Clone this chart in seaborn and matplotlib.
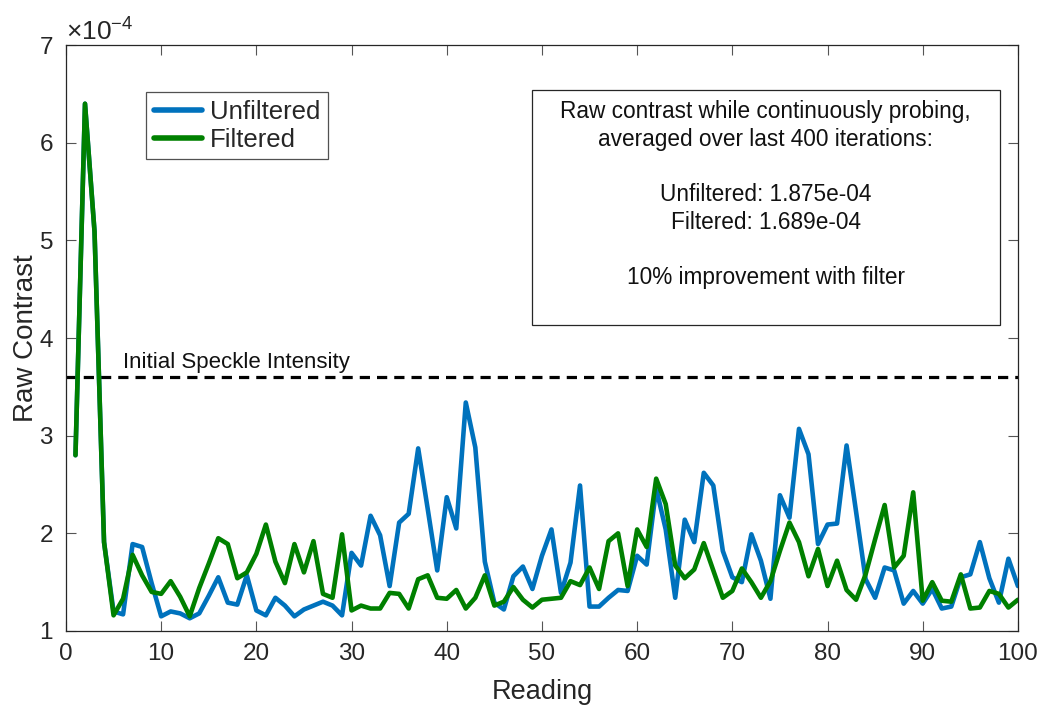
import matplotlib
matplotlib.use("Agg")
import matplotlib.pyplot as plt
import matplotlib.patches as patches
from matplotlib.ticker import ScalarFormatter, MultipleLocator
import seaborn as sns
import pandas as pd

# values, in units of 1e-4
readings = list(range(1, 101))
unfiltered = [
    2.80, 6.40, 5.09, 1.91, 1.20, 1.17, 1.89, 1.86, 1.49, 1.15,
    1.20, 1.18, 1.13, 1.18, 1.36, 1.55, 1.29, 1.27, 1.57, 1.21,
    1.16, 1.34, 1.26, 1.15, 1.22, 1.26, 1.30, 1.26, 1.16, 1.80,
    1.67, 2.18, 1.98, 1.46, 2.11, 2.20, 2.87, 2.25, 1.62, 2.37,
    2.05, 3.34, 2.88, 1.71, 1.29, 1.22, 1.56, 1.66, 1.43, 1.77,
    2.04, 1.39, 1.70, 2.49, 1.25, 1.25, 1.34, 1.42, 1.41, 1.77,
    1.68, 2.46, 2.04, 1.34, 2.14, 1.91, 2.62, 2.49, 1.82, 1.55,
    1.50, 1.99, 1.72, 1.33, 2.39, 2.16, 3.07, 2.81, 1.89, 2.09,
    2.10, 2.90, 2.22, 1.53, 1.34, 1.65, 1.62, 1.28, 1.41, 1.28,
    1.43, 1.23, 1.25, 1.55, 1.58, 1.91, 1.54, 1.29, 1.74, 1.46,
]
filtered = [
    2.80, 6.40, 5.09, 1.91, 1.16, 1.33, 1.78, 1.57, 1.40, 1.38,
    1.51, 1.35, 1.15, 1.44, 1.69, 1.95, 1.89, 1.54, 1.60, 1.79,
    2.09, 1.71, 1.49, 1.89, 1.60, 1.92, 1.38, 1.34, 1.99, 1.21,
    1.26, 1.23, 1.23, 1.39, 1.38, 1.23, 1.53, 1.57, 1.34, 1.33,
    1.42, 1.23, 1.34, 1.57, 1.26, 1.30, 1.45, 1.32, 1.24, 1.32,
    1.33, 1.34, 1.51, 1.47, 1.65, 1.43, 1.92, 2.00, 1.46, 2.04,
    1.86, 2.56, 2.30, 1.67, 1.54, 1.63, 1.90, 1.62, 1.34, 1.41,
    1.64, 1.50, 1.34, 1.51, 1.82, 2.11, 1.91, 1.56, 1.84, 1.46,
    1.72, 1.42, 1.32, 1.58, 1.94, 2.29, 1.65, 1.77, 2.42, 1.31,
    1.50, 1.31, 1.30, 1.58, 1.23, 1.24, 1.41, 1.38, 1.24, 1.32,
]
speckle_level = 3.6e-4
series_names = ["Unfiltered", "Filtered"]
summary_lines = [
    "Raw contrast while continuously probing,",
    "averaged over last 400 iterations:",
    "",
    "Unfiltered: 1.875e-04",
    "Filtered: 1.689e-04",
    "",
    "10% improvement with filter",
]

df = pd.DataFrame({
    "Reading": readings + readings,
    "Raw Contrast": [v * 1e-4 for v in unfiltered + filtered],
    "Series": [series_names[0]] * len(unfiltered) + [series_names[1]] * len(filtered),
})

sns.set_style("ticks")
plt.rcParams["font.family"] = ["Liberation Sans", "DejaVu Sans"]
plt.rcParams["mathtext.fontset"] = "custom"
plt.rcParams["mathtext.rm"] = "Liberation Sans"

fig = plt.figure(figsize=(10.42, 7.05), dpi=100)
ax = fig.add_axes([0.0633, 0.105, 0.9136, 0.831])

palette = {"Unfiltered": "#0072BD", "Filtered": "#008000"}
sns.lineplot(data=df, x="Reading", y="Raw Contrast", hue="Series", palette=palette,
             linewidth=3.3, ax=ax, legend=True)

ax.axhline(speckle_level, color="black", linestyle=(0, (3.2, 2.2)), linewidth=2.3, zorder=1)
ax.text(6, speckle_level + 0.09e-4, "Initial Speckle Intensity", fontsize=16,
        ha="left", va="baseline", color="#111111")

ax.set_xlim(0, 100)
ax.set_ylim(1e-4, 7e-4)
ax.xaxis.set_major_locator(MultipleLocator(10))
ax.yaxis.set_major_locator(MultipleLocator(1e-4))
fmt = ScalarFormatter(useMathText=True)
fmt.set_powerlimits((0, 0))
ax.yaxis.set_major_formatter(fmt)
ax.yaxis.get_offset_text().set_fontsize(19)
ax.yaxis.get_offset_text().set_color("#262626")

ax.tick_params(direction="in", length=7, width=0.8, color="#555555",
               labelsize=17.5, labelcolor="#262626", top=True, right=True)
ax.tick_params(axis="x", pad=9)
ax.tick_params(axis="y", pad=9)
for s in ax.spines.values():
    s.set_color("#262626")
    s.set_linewidth(0.9)

ax.set_xlabel("Reading", fontsize=19.5, color="#262626", labelpad=10)
ax.set_ylabel("Raw Contrast", fontsize=20, color="#262626", labelpad=0)

leg = ax.legend(loc="upper left", bbox_to_anchor=(0.084, 0.92), fontsize=18.5,
                frameon=True, fancybox=False, edgecolor="#262626",
                handlelength=1.9, handletextpad=0.3, borderpad=0.3,
                labelspacing=0.15, borderaxespad=0)
leg.get_frame().set_linewidth(0.9)
for line in leg.get_lines():
    line.set_linewidth(4)

box = patches.Rectangle((0.4895, 0.522), 0.4916, 0.401, transform=ax.transAxes,
                        fill=True, facecolor="white", edgecolor="#262626",
                        linewidth=0.9, zorder=5)
ax.add_patch(box)
ax.text(0.735, 0.906, "\n".join(summary_lines), transform=ax.transAxes,
        ha="center", va="top", fontsize=16.3, linespacing=1.26, color="#111111", zorder=6)

fig.savefig("out.png", dpi=100)
